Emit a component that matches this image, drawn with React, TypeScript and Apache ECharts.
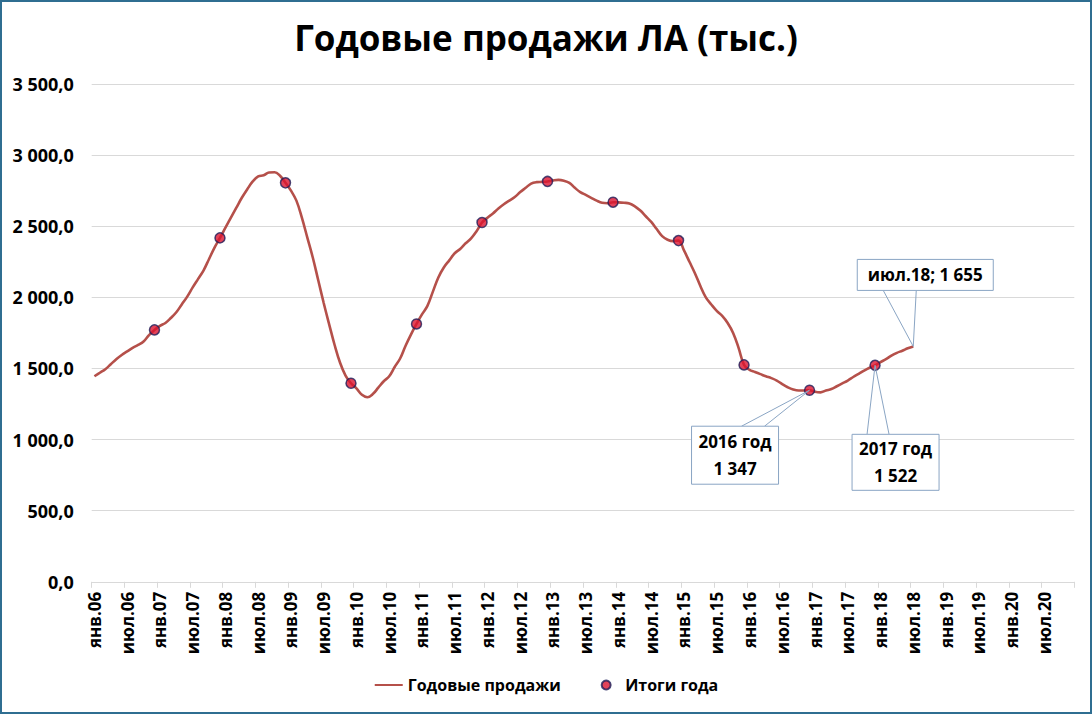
import React, { useEffect, useRef } from "react";
import * as echarts from "echarts";

const MONTHS = ["янв", "фев", "мар", "апр", "май", "июн", "июл", "авг", "сен", "окт", "ноя", "дек"];
const FIRST_YEAR = 2006;
const LAST_YEAR = 2020;

// Годовые продажи, помесячно: янв.06 … июл.18
const sales2006 = [1445, 1470, 1495, 1530, 1565, 1595, 1620, 1645, 1665, 1690, 1735, 1771];
const sales2007 = [1800, 1820, 1855, 1895, 1950, 2005, 2070, 2130, 2190, 2270, 2350, 2418];
const sales2008 = [2490, 2560, 2630, 2700, 2760, 2815, 2850, 2858, 2878, 2880, 2855, 2805];
const sales2009 = [2750, 2680, 2560, 2420, 2280, 2120, 1960, 1810, 1665, 1540, 1450, 1396];
const sales2010 = [1360, 1315, 1298, 1320, 1365, 1410, 1445, 1510, 1570, 1660, 1740, 1813];
const sales2011 = [1880, 1940, 2040, 2140, 2210, 2260, 2310, 2340, 2380, 2415, 2465, 2526];
const sales2012 = [2560, 2590, 2625, 2655, 2680, 2705, 2740, 2770, 2800, 2810, 2812, 2815];
const sales2013 = [2822, 2826, 2820, 2805, 2770, 2740, 2720, 2700, 2680, 2665, 2662, 2669];
const sales2014 = [2668, 2665, 2660, 2640, 2610, 2570, 2530, 2480, 2430, 2405, 2395, 2399];
const sales2015 = [2330, 2250, 2170, 2080, 2000, 1950, 1905, 1870, 1820, 1750, 1645, 1525];
const sales2016 = [1490, 1475, 1460, 1445, 1432, 1415, 1390, 1368, 1352, 1345, 1345, 1347];
const sales2017 = [1336, 1332, 1345, 1355, 1375, 1395, 1415, 1440, 1462, 1485, 1505, 1522];
const sales2018 = [1545, 1565, 1590, 1610, 1625, 1642, 1655];

// Итоги года (декабрь каждого года)
const totalYears = [2006, 2007, 2008, 2009, 2010, 2011, 2012, 2013, 2014, 2015, 2016, 2017];
const totalValues = [1771, 2418, 2805, 1396, 1813, 2526, 2815, 2669, 2399, 1525, 1347, 1522];

const yTicks = [0, 500, 1000, 1500, 2000, 2500, 3000, 3500];

const FONT = '"Open Sans", "Noto Sans", sans-serif';

function fmtNum(v: number, dec: number) {
  const s = v.toFixed(dec);
  const [intPart, frac] = s.split(".");
  const withSp = intPart.replace(/\B(?=(\d{3})+(?!\d))/g, " ");
  return frac !== undefined ? withSp + "," + frac : withSp;
}

export default function App() {
  const ref = useRef<HTMLDivElement>(null);
  useEffect(() => {
    document.body.style.margin = "0";
    if (!ref.current) return;
    const chart = echarts.init(ref.current, undefined, { renderer: "svg" });

    const categories: string[] = [];
    for (let y = FIRST_YEAR; y <= LAST_YEAR; y++) {
      for (let m = 0; m < 12; m++) {
        categories.push(MONTHS[m] + "." + String(y).slice(2));
      }
    }
    const sales = [
      ...sales2006, ...sales2007, ...sales2008, ...sales2009, ...sales2010, ...sales2011,
      ...sales2012, ...sales2013, ...sales2014, ...sales2015, ...sales2016, ...sales2017, ...sales2018,
    ];
    const totalsData = totalYears.map((yr, i) => [(yr - FIRST_YEAR) * 12 + 11, totalValues[i]]);

    chart.setOption({
      animation: false,
      backgroundColor: "#ffffff",
      title: {
        text: "Годовые продажи ЛА (тыс.)",
        left: "center",
        top: 15,
        textStyle: { fontFamily: FONT, fontWeight: "bold", fontSize: 35, color: "#000" },
      },
      grid: { left: 91.7, right: 17.7, top: 84, bottom: 132.2, containLabel: false },
      legend: {
        bottom: 16,
        left: "center",
        itemGap: 40,
        itemWidth: 28,
        itemHeight: 9,
        textStyle: { fontFamily: FONT, fontWeight: "bold", fontSize: 16, color: "#000" },
        data: [
          {
            name: "Годовые продажи",
            itemStyle: { color: "rgba(0,0,0,0)", borderColor: "rgba(0,0,0,0)", borderWidth: 0 },
          },
          { name: "Итоги года" },
        ],
      },
      xAxis: {
        type: "category",
        data: categories,
        boundaryGap: true,
        axisLine: { show: true, lineStyle: { color: "#d9d9d9", width: 1 } },
        axisTick: { show: true, interval: 5, length: 6, lineStyle: { color: "#d9d9d9" } },
        axisLabel: {
          interval: 5,
          rotate: 90,
          margin: 10,
          fontFamily: FONT,
          fontWeight: "bold",
          fontSize: 17,
          color: "#000",
        },
        splitLine: { show: false },
      },
      yAxis: {
        type: "value",
        min: yTicks[0],
        max: yTicks[yTicks.length - 1],
        interval: 500,
        axisLine: { show: false },
        axisTick: { show: false },
        axisLabel: {
          margin: 18,
          fontFamily: FONT,
          fontWeight: "bold",
          fontSize: 18,
          color: "#000",
          formatter: (v: number) => fmtNum(v, 1),
        },
        splitLine: { show: true, lineStyle: { color: "#d9d9d9", width: 1 } },
      },
      series: [
        {
          name: "Годовые продажи",
          type: "line",
          data: sales,
          smooth: 0.4,
          symbol: "none",
          lineStyle: { color: "#b5504a", width: 2.6 },
          itemStyle: { color: "#b5504a" },
          z: 2,
        },
        {
          name: "Итоги года",
          type: "scatter",
          data: totalsData,
          symbol: "circle",
          symbolSize: 10,
          itemStyle: { color: "#dc1430", borderColor: "#1f1f5a", borderWidth: 1.5 },
          z: 3,
        },
      ],
    });

    const toPx = (idx: number, val: number) =>
      chart.convertToPixel({ gridIndex: 0 }, [idx, val]) as number[];

    const stroke = "#8aa5c4";
    const graphics: any[] = [];
    const addCallout = (
      pt: number[],
      box: { dx: number; dy: number; w: number; h: number },
      anchors: number[][],
      text: string,
      lineHeight: number
    ) => {
      const bx = pt[0] + box.dx;
      const by = pt[1] + box.dy;
      anchors.forEach((a) => {
        graphics.push({
          type: "line",
          z: 100,
          shape: { x1: bx + a[0], y1: by + a[1], x2: pt[0], y2: pt[1] },
          style: { stroke, lineWidth: 1 },
        });
      });
      graphics.push({
        type: "rect",
        z: 101,
        shape: { x: bx, y: by, width: box.w, height: box.h },
        style: { fill: "#ffffff", stroke, lineWidth: 1 },
      });
      graphics.push({
        type: "text",
        z: 102,
        x: bx + box.w / 2,
        y: by + box.h / 2,
        style: {
          text,
          fill: "#000",
          fontFamily: FONT,
          fontWeight: "bold",
          fontSize: 17,
          lineHeight,
          textAlign: "center",
          textVerticalAlign: "middle",
        },
      });
    };

    const lastIdx = sales.length - 1;
    const lastVal = sales[lastIdx];
    const lastPt = toPx(lastIdx, lastVal);
    addCallout(
      lastPt,
      { dx: -56, dy: -87, w: 136, h: 31 },
      [[26, 31], [59, 31]],
      categories[lastIdx] + "; " + fmtNum(lastVal, 0),
      22
    );

    const i16 = totalYears.indexOf(2016);
    const p16 = toPx(totalsData[i16][0], totalValues[i16]);
    addCallout(
      p16,
      { dx: -118, dy: 36, w: 87, h: 58 },
      [[50, 0], [73, 0]],
      "2016 год\n" + fmtNum(totalValues[i16], 0),
      27
    );

    const i17 = totalYears.indexOf(2017);
    const p17 = toPx(totalsData[i17][0], totalValues[i17]);
    addCallout(
      p17,
      { dx: -23, dy: 69, w: 87, h: 56 },
      [[15, 0], [37, 0]],
      "2017 год\n" + fmtNum(totalValues[i17], 0),
      27
    );

    chart.setOption({ graphic: { elements: graphics } });

    return () => chart.dispose();
  }, []);

  return (
    <div style={{ position: "relative", width: 1092, height: 714 }}>
      <div ref={ref} style={{ width: 1092, height: 714 }} />
      <div
        style={{
          position: "absolute",
          left: 0,
          top: 0,
          width: 1092,
          height: 714,
          boxSizing: "border-box",
          border: "2px solid #2f6e91",
          pointerEvents: "none",
        }}
      />
    </div>
  );
}
